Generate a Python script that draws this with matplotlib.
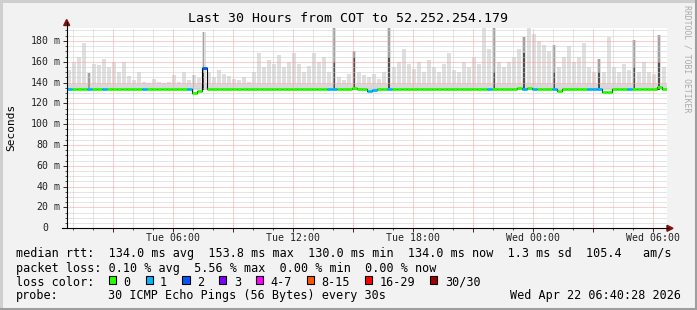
import numpy as np
import matplotlib.pyplot as plt
from matplotlib.patches import Rectangle, Polygon
from matplotlib.lines import Line2D
from matplotlib.transforms import blended_transform_factory

W, H = 697, 310
plt.rcParams['font.family'] = ['DejaVu Sans Mono', 'DejaVu Sans']

# time in hours counted from Tue 00:00, graph ends Wed 06:40:28
t_start = 40 / 60 + 28 / 3600
t_end = t_start + 30
step = 0.25  # 15 minute bins

# smoke: max ping per bin (ms)
smoke_top = [
    152, 160, 165, 178, 149, 158, 157, 163, 155, 160,
    150, 160, 146, 142, 150, 141, 140, 143, 141, 140,
    141, 147, 141, 150, 142, 147, 144, 189, 150, 145,
    152, 148, 146, 143, 142, 145, 141, 150, 168, 155,
    162, 158, 166, 155, 160, 168, 158, 150, 156, 168,
    160, 165, 150, 192, 145, 142, 148, 170, 150, 147,
    145, 148, 143, 150, 192, 155, 160, 172, 158, 153,
    160, 150, 162, 155, 150, 158, 168, 152, 150, 160,
    155, 165, 158, 192, 172, 192, 160, 155, 160, 165,
    172, 184, 192, 187, 180, 176, 170, 176, 155, 165,
    175, 160, 165, 178, 155, 150, 163, 150, 184, 155,
    150, 158, 152, 181, 150, 160, 150, 148, 186, 155,
]
smoke_floor = 132.5
smoke_band = 139.0   # most pings sit between floor and band

# bins where many pings were slow (dark smoke)
dark_bins = [4, 25, 27, 53, 57, 64, 85, 91, 97, 106, 113, 118]
dark_tops = [149, 147, 189, 192, 170, 192, 192, 184, 176, 163, 181, 186]
dark_cores = [132.5, 132.5, 150, 160, 165, 165, 150, 168, 150, 150, 155, 160]

# median rtt per bin (ms)
median = [
    134.0, 134.0, 134.0, 134.0, 134.0, 134.0, 134.0, 134.0, 134.0, 134.0,
    134.0, 134.0, 134.0, 134.0, 134.0, 134.0, 134.0, 134.0, 134.0, 134.0,
    134.0, 134.0, 134.0, 134.0, 134.0, 130.0, 132.0, 153.8, 134.0, 134.0,
    134.0, 134.0, 134.0, 134.0, 134.0, 134.0, 134.0, 134.0, 134.0, 134.0,
    134.0, 134.0, 134.0, 134.0, 134.0, 134.0, 134.0, 134.0, 134.0, 134.0,
    134.0, 134.0, 134.0, 134.0, 134.0, 134.0, 134.0, 135.2, 134.0, 133.5,
    132.0, 132.5, 133.5, 134.0, 134.0, 134.0, 134.0, 134.0, 134.0, 134.0,
    134.0, 134.0, 134.0, 134.0, 134.0, 134.0, 134.0, 134.0, 134.0, 134.0,
    134.0, 134.0, 134.0, 134.0, 134.0, 134.0, 134.0, 134.0, 134.0, 134.0,
    135.2, 134.0, 135.0, 134.0, 134.0, 134.0, 134.0, 134.0, 132.0, 134.0,
    134.0, 134.0, 134.0, 134.0, 134.0, 134.0, 134.0, 131.4, 131.4, 134.0,
    134.0, 134.0, 134.0, 134.0, 134.0, 134.0, 134.0, 134.0, 135.8, 134.0,
]
# loss class per bin (index into loss_labels)
loss = [
    1, 0, 0, 0, 1, 0, 0, 1, 0, 0,
    0, 0, 0, 0, 0, 1, 0, 0, 0, 0,
    0, 0, 0, 0, 1, 0, 0, 2, 0, 0,
    0, 0, 0, 0, 0, 0, 0, 0, 0, 0,
    0, 0, 0, 0, 0, 0, 0, 0, 0, 0,
    0, 0, 1, 1, 0, 0, 0, 0, 0, 0,
    1, 1, 0, 0, 1, 0, 0, 0, 0, 0,
    0, 0, 0, 0, 0, 0, 0, 0, 0, 0,
    0, 0, 0, 0, 1, 0, 0, 0, 0, 0,
    0, 1, 0, 1, 0, 0, 0, 1, 0, 0,
    0, 0, 0, 0, 1, 1, 1, 0, 0, 0,
    0, 0, 1, 0, 0, 0, 0, 0, 0, 0,
]

loss_labels = ["0", "1", "2", "3", "4-7", "8-15", "16-29", "30/30"]
loss_colors = ["#26ff00", "#00b8ff", "#0059ff", "#7e00ff",
               "#ff00ff", "#ff5500", "#ff0000", "#a10000"]

x_hours = [6, 12, 18, 24, 30]
x_labels = ["Tue 06:00", "Tue 12:00", "Tue 18:00", "Wed 00:00", "Wed 06:00"]
y_values = [0, 20, 40, 60, 80, 100, 120, 140, 160, 180]

rtt_vals = ["134.0", "153.8", "130.0", "134.0"]
rtt_names = ["avg", "max", "min", "now"]
rtt_sd = "1.3"
rtt_ams = "105.4"
loss_vals = ["0.10", "5.56", "0.00", "0.00"]
probe_text = "30 ICMP Echo Pings (56 Bytes) every 30s"
stamp = "Wed Apr 22 06:40:28 2026"
title = "Last 30 Hours from COT to 52.252.254.179"


def fx(x):
    return x / W


def fy(y):
    return 1 - y / H


fig = plt.figure(figsize=(W / 100, H / 100), dpi=100)
fig.patch.set_facecolor("#F2F2F2")

# bevel frame
for (xa, ya, xb, yb, c) in [(0, 1, W, 1, "#CFCFCF"), (1, 0, 1, H, "#CFCFCF"),
                            (0, H - 1.5, W, H - 1.5, "#9E9E9E"),
                            (W - 1.5, 0, W - 1.5, H, "#9E9E9E")]:
    fig.add_artist(Line2D([fx(xa), fx(xb)], [fy(ya), fy(yb)], color=c,
                          lw=2.2, transform=fig.transFigure))

x0, x1 = 66.7, 666.7
ytop, ybot = 28.0, 228.3
ax = fig.add_axes([fx(x0), fy(ybot), (x1 - x0) / W, (ybot - ytop) / H])
ax.set_xlim(t_start, t_end)
ax.set_ylim(0, 192.4)
ax.set_facecolor("white")
for s in ax.spines.values():
    s.set_visible(False)

# grid, 1px on / 1px off dots
dot = (0, (1, 1))
for h in range(1, 31):
    major = h % 3 == 0
    ax.axvline(h, color="#FF9C9C" if major else "#CCCCCC", lw=0.72,
               ls=dot, zorder=3)
for v in range(5, 192, 5):
    major = v % 20 == 0
    ax.axhline(v, color="#FF9C9C" if major else "#CCCCCC", lw=0.72,
               ls=dot, zorder=3)

# smoke
edges = t_start + step * np.arange(len(smoke_top))
tops = np.array(smoke_top, dtype=float)
ax.bar(edges, tops - smoke_floor, width=step * 0.8, bottom=smoke_floor,
       align="edge", color="#DFDFDF", linewidth=0, zorder=2)
ax.bar(t_start, smoke_band - smoke_floor, width=30, bottom=smoke_floor,
       align="edge", color="#D8D8D8", linewidth=0, zorder=2.1)
for b, tp, core in zip(dark_bins, dark_tops, dark_cores):
    xc = edges[b] + step * 0.4
    ax.bar(xc, tp - smoke_floor, width=0.08, bottom=smoke_floor,
           color="#A0A0A0", linewidth=0, zorder=2.2)
    if core > smoke_floor:
        ax.bar(xc, core - smoke_floor, width=0.08, bottom=smoke_floor,
               color="#505050", linewidth=0, zorder=2.3)

# median line: black base, loss colour on top
med = np.array(median)
ax.step(np.append(edges, t_end), np.append(med, med[-1]), where="post",
        color="black", lw=0.8, zorder=4)
ax.hlines(med, edges, edges + step,
          colors=[loss_colors[k] for k in loss], lw=2.0, zorder=5,
          capstyle="butt")

# ticks
ax.set_yticks(y_values)
ax.set_yticks(range(0, 192, 5), minor=True)
ax.set_xticks(range(3, 31, 3))
ax.set_xticks(range(1, 31), minor=True)
ax.tick_params(which="major", direction="out", length=2.9, width=0.72,
               color="#333333", labelleft=False, labelbottom=False)
ax.tick_params(which="minor", direction="out", length=1.4, width=0.72,
               color="#555555")

# axis lines with arrows
fig.add_artist(Line2D([fx(x0), fx(x0)], [fy(ybot), fy(22)], color="black",
                      lw=0.8, transform=fig.transFigure))
fig.add_artist(Line2D([fx(62), fx(668)], [fy(ybot), fy(ybot)], color="black",
                      lw=0.8, transform=fig.transFigure))
fig.add_artist(Polygon([[fx(x0 - 3), fy(25.5)], [fx(x0 + 3), fy(25.5)],
                        [fx(x0), fy(19.5)]], closed=True, color="#7F1010",
                       transform=fig.transFigure))
fig.add_artist(Polygon([[fx(667), fy(ybot - 3)], [fx(667), fy(ybot + 3)],
                        [fx(673), fy(ybot)]], closed=True, color="#7F1010",
                       transform=fig.transFigure))

# y labels
ty = blended_transform_factory(fig.transFigure, ax.transData)
for v in y_values:
    ax.text(fx(48.6), v, str(v), transform=ty, ha="right", va="center",
            fontsize=7.1, color="#222222", clip_on=False)
    if v:
        ax.text(fx(54.0), v, "m", transform=ty, ha="left", va="center",
                fontsize=7.1, color="#222222", clip_on=False)

# x labels
tx = blended_transform_factory(ax.transData, fig.transFigure)
for h, lab in zip(x_hours, x_labels):
    ax.text(h, fy(237.8), lab, transform=tx, ha="center", va="center",
            fontsize=7.1, color="#222222", clip_on=False)

fig.text(fx(347.5), fy(19), title, ha="center", va="center", fontsize=9.5)
fig.text(fx(11), fy(127), "Seconds", rotation=90, ha="center", va="center",
         fontsize=8)
fig.text(fx(686.5), fy(59), "RRDTOOL / TOBI OETIKER", rotation=270,
         ha="center", va="center", fontsize=5.9, color="#AAAAAA")

# legend
fs = 8.5
line1 = "median rtt:  " + "  ".join(f"{v} ms {n}" for v, n in
                                    zip(rtt_vals, rtt_names))
line1 += f"  {rtt_sd} ms sd  {rtt_ams}   am/s"
line2 = "packet loss: " + "  ".join(f"{v} % {n}" for v, n in
                                    zip(loss_vals, rtt_names))
fig.text(fx(16), fy(254), line1, ha="left", va="center", fontsize=fs)
fig.text(fx(16), fy(268.2), line2, ha="left", va="center", fontsize=fs)
fig.text(fx(16), fy(282), "loss color:", ha="left", va="center", fontsize=fs)
bx = 108.7
for lab, col in zip(loss_labels, loss_colors):
    fig.add_artist(Rectangle((fx(bx), fy(283.5)), 7.2 / W, 7.2 / H,
                             facecolor=col, edgecolor="black", lw=0.8,
                             transform=fig.transFigure))
    fig.text(fx(bx + 14.6), fy(282), lab, ha="left", va="center", fontsize=fs)
    bx += 36.8 + (len(lab) - 1) * 7.11
fig.text(fx(16), fy(296), "probe:", ha="left", va="center", fontsize=fs)
fig.text(fx(107.5), fy(296), probe_text, ha="left", va="center", fontsize=fs)
fig.text(fx(680.5), fy(296), stamp, ha="right", va="center", fontsize=fs)

fig.savefig("out.png", dpi=100, facecolor=fig.get_facecolor())
